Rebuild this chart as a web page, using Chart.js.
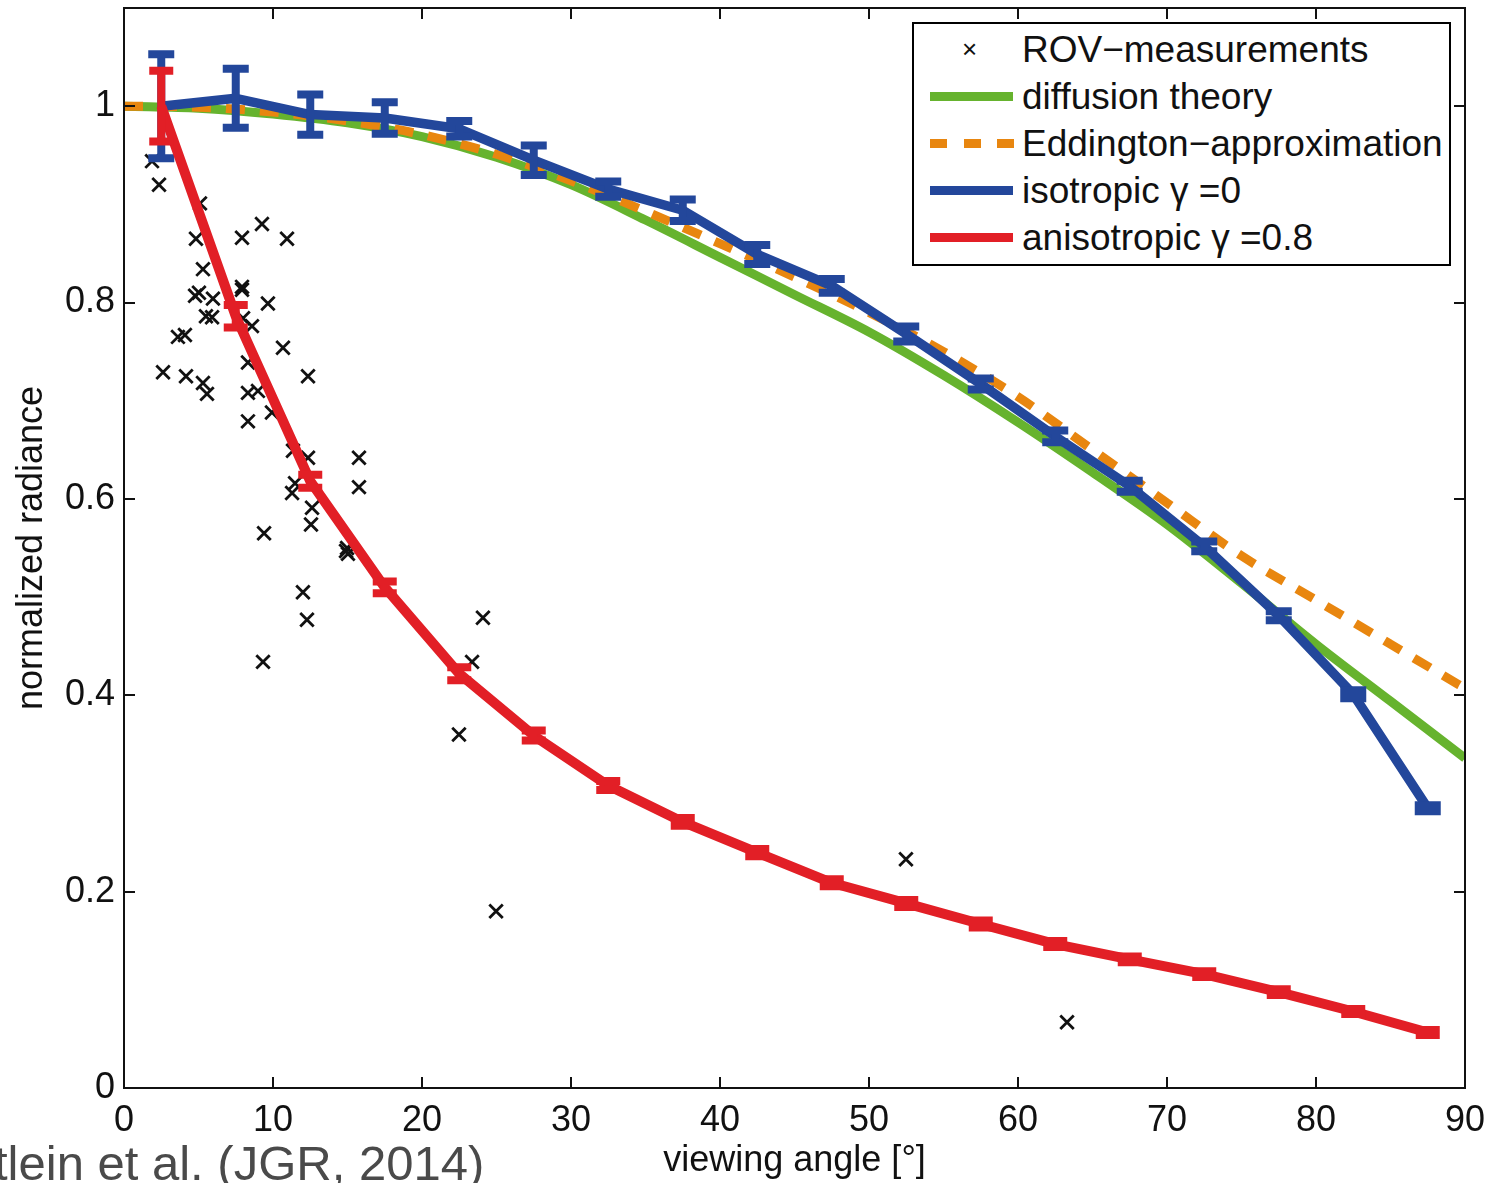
<!DOCTYPE html>
<html>
<head>
<meta charset="utf-8">
<script src="https://cdn.jsdelivr.net/npm/chart.js@4.4.1/dist/chart.umd.min.js"></script>
<style>
html,body{margin:0;padding:0;background:#fff;}
#wrap{position:relative;width:1490px;height:1183px;overflow:hidden;font-family:"Liberation Sans",Arial,Helvetica,sans-serif;}
#c{position:absolute;left:0;top:0;}
#legend{position:absolute;left:912px;top:22px;width:535px;height:240px;border:2px solid #000;background:#fff;}
.row{position:absolute;left:0;width:535px;height:47px;}
.txt{position:absolute;left:108px;top:0;line-height:47px;font-size:37px;color:#111;white-space:nowrap;}
.sw{position:absolute;left:16px;top:19px;width:83px;height:9px;}
.dash{position:absolute;top:19px;width:17px;height:9px;background:#e8860f;}
.mk{position:absolute;left:48px;top:0;line-height:47px;font-size:26px;color:#111;}
#cite{position:absolute;left:-6px;top:1139px;font-size:49px;line-height:49px;color:#4a4a4a;white-space:nowrap;}
</style>
</head>
<body>
<div id="wrap">
<canvas id="c" width="1490" height="1183"></canvas>
<div id="legend">
  <div class="row" style="top:2px"><span class="mk">×</span><span class="txt">ROV−measurements</span></div>
  <div class="row" style="top:49px"><div class="sw" style="background:#66b32e"></div><span class="txt">diffusion theory</span></div>
  <div class="row" style="top:96px"><div class="dash" style="left:16px"></div><div class="dash" style="left:50px"></div><div class="dash" style="left:83px"></div><span class="txt">Eddington−approximation</span></div>
  <div class="row" style="top:143px"><div class="sw" style="background:#23479b"></div><span class="txt">isotropic γ =0</span></div>
  <div class="row" style="top:190px"><div class="sw" style="background:#e21f26"></div><span class="txt">anisotropic γ =0.8</span></div>
</div>
<div id="cite">tlein et al. (JGR, 2014)</div>
</div>
<script>
// ---- data ----
const angles = [2.5,7.5,12.5,17.5,22.5,27.5,32.5,37.5,42.5,47.5,52.5,57.5,62.5,67.5,72.5,77.5,82.5,87.5];
const isoValues = [1.000,1.008,0.9915,0.988,0.977,0.945,0.9155,0.894,0.849,0.817,0.768,0.717,0.6636,0.613,0.5517,0.481,0.401,0.285];
const isoErr = [0.053,0.030,0.0205,0.016,0.008,0.015,0.0077,0.011,0.0097,0.007,0.0076,0.0056,0.006,0.0056,0.005,0.0046,0.004,0.003];
const anisoValues = [1.000,0.786,0.618,0.510,0.422,0.359,0.308,0.271,0.2397,0.209,0.188,0.167,0.1466,0.131,0.116,0.0977,0.0779,0.0565];
const anisoErr = [0.036,0.0115,0.0066,0.006,0.0066,0.005,0.0046,0.004,0.0036,0.0036,0.0036,0.0036,0.003,0.003,0.003,0.003,0.0025,0.0025];
const theoryAngles = [0,5,10,15,20,25,30,35,40,45,50,55,60,65,70,75,80,85,90];
const diffusionValues = [1.000,0.998,0.992,0.983,0.969,0.948,0.920,0.884,0.846,0.808,0.770,0.726,0.678,0.627,0.574,0.514,0.452,0.394,0.336];
const eddingtonValues = [1.000,0.999,0.994,0.985,0.971,0.951,0.924,0.893,0.860,0.826,0.790,0.750,0.704,0.650,0.596,0.542,0.497,0.452,0.407];
const rovAngles = [1.88,2.35,5.10,4.83,7.92,9.26,10.94,5.30,4.77,5.03,5.97,7.92,7.92,5.50,5.91,9.66,7.99,8.59,4.09,3.62,10.67,8.32,2.62,4.16,12.35,5.30,5.57,8.32,8.99,9.93,8.32,11.34,12.35,15.77,11.48,11.28,15.77,12.62,12.55,9.40,14.90,15.03,14.97,12.01,12.28,24.09,9.33,23.36,22.48,24.97,52.48,63.29];
const rovValues = [0.944,0.920,0.901,0.865,0.866,0.880,0.865,0.834,0.807,0.810,0.804,0.816,0.813,0.786,0.785,0.799,0.784,0.776,0.767,0.765,0.754,0.739,0.729,0.725,0.725,0.718,0.707,0.708,0.710,0.688,0.679,0.649,0.642,0.642,0.616,0.606,0.612,0.591,0.574,0.565,0.547,0.544,0.550,0.505,0.477,0.479,0.434,0.434,0.360,0.180,0.233,0.067];
const xTicks = [0,10,20,30,40,50,60,70,80,90];
const yTicks = [0,0.2,0.4,0.6,0.8,1];

const zip = (xs, ys) => xs.map((x, i) => ({x: x, y: ys[i]}));

const errorBars = {
  id: 'errorBars',
  afterDatasetDraw(chart, args) {
    const ds = chart.data.datasets[args.index];
    if (!ds.errors) return;
    const xs = chart.scales.x, ys = chart.scales.y, ctx = chart.ctx;
    ctx.save();
    ctx.strokeStyle = ds.borderColor;
    ctx.lineWidth = ds.errLineWidth;
    ctx.lineCap = 'butt';
    ds.data.forEach((p, i) => {
      const e = ds.errors[i];
      const px = xs.getPixelForValue(p.x);
      const pt = ys.getPixelForValue(p.y + e);
      const pb = ys.getPixelForValue(p.y - e);
      const c = ds.capHalf;
      ctx.beginPath();
      ctx.moveTo(px, pt); ctx.lineTo(px, pb);
      ctx.moveTo(px - c, pt); ctx.lineTo(px + c, pt);
      ctx.moveTo(px - c, pb); ctx.lineTo(px + c, pb);
      ctx.stroke();
    });
    ctx.restore();
  }
};

const frame = {
  id: 'frame',
  afterDraw(chart) {
    const {ctx, chartArea: a} = chart;
    const xs = chart.scales.x, ys = chart.scales.y;
    ctx.save();
    ctx.strokeStyle = '#111';
    ctx.lineWidth = 2;
    ctx.strokeRect(a.left, a.top, a.right - a.left, a.bottom - a.top);
    const L = 11;
    ctx.beginPath();
    xTicks.forEach(v => {
      const px = Math.round(xs.getPixelForValue(v));
      ctx.moveTo(px, a.bottom); ctx.lineTo(px, a.bottom - L);
      ctx.moveTo(px, a.top); ctx.lineTo(px, a.top + L);
    });
    yTicks.forEach(v => {
      const py = Math.round(ys.getPixelForValue(v));
      ctx.moveTo(a.left, py); ctx.lineTo(a.left + L, py);
      ctx.moveTo(a.right, py); ctx.lineTo(a.right - L, py);
    });
    ctx.stroke();
    ctx.restore();
  }
};

const font = {family: '"Liberation Sans", Arial, sans-serif', size: 36};

new Chart(document.getElementById('c'), {
  type: 'scatter',
  data: {
    datasets: [
      {label: 'anisotropic γ =0.8', data: zip(angles, anisoValues), errors: anisoErr, showLine: true,
       borderColor: '#e21f26', backgroundColor: '#e21f26', borderWidth: 10, pointRadius: 0,
       errLineWidth: 8, capHalf: 12, borderJoinStyle: 'round'},
      {label: 'isotropic γ =0', data: zip(angles, isoValues), errors: isoErr, showLine: true,
       borderColor: '#23479b', backgroundColor: '#23479b', borderWidth: 9.5, pointRadius: 0,
       errLineWidth: 8, capHalf: 13, borderJoinStyle: 'round'},
      {label: 'Eddington−approximation', data: zip(theoryAngles, eddingtonValues), showLine: true,
       borderColor: '#e8860f', backgroundColor: '#e8860f', borderWidth: 9, pointRadius: 0,
       borderDash: [19, 15], cubicInterpolationMode: 'monotone'},
      {label: 'diffusion theory', data: zip(theoryAngles, diffusionValues), showLine: true,
       borderColor: '#66b32e', backgroundColor: '#66b32e', borderWidth: 9, pointRadius: 0,
       cubicInterpolationMode: 'monotone'},
      {label: 'ROV−measurements', data: zip(rovAngles, rovValues), showLine: false,
       pointStyle: 'crossRot', pointRadius: 9.5, borderWidth: 2.8,
       borderColor: '#111', backgroundColor: '#111'}
    ]
  },
  options: {
    responsive: false,
    animation: false,
    events: [],
    layout: {autoPadding: false, padding: {left: 0, right: 25, top: 8, bottom: 0}},
    plugins: {legend: {display: false}, tooltip: {enabled: false}},
    scales: {
      x: {
        type: 'linear', min: 0, max: 90,
        grid: {display: false, drawTicks: false},
        border: {display: false},
        ticks: {font: font, color: '#111', padding: 11, maxRotation: 0},
        title: {display: true, text: 'viewing angle [°]', font: font, color: '#111', padding: {top: 0, bottom: 0}},
        afterBuildTicks: s => { s.ticks = xTicks.map(v => ({value: v})); },
        afterFit: s => { s.height = 95; s.paddingLeft = 0; s.paddingRight = 0; }
      },
      y: {
        type: 'linear', min: 0, max: 1.1,
        grid: {display: false, drawTicks: false},
        border: {display: false},
        ticks: {font: font, color: '#111', padding: 9,
                callback: v => String(Number(v.toFixed(1)))},
        title: {display: true, text: 'normalized radiance', font: font, color: '#111', padding: {top: 10, bottom: 0}},
        afterBuildTicks: s => { s.ticks = yTicks.map(v => ({value: v})); },
        afterFit: s => { s.width = 124; s.paddingTop = 0; s.paddingBottom = 0; }
      }
    }
  },
  plugins: [errorBars, frame]
});
</script>
</body>
</html>
